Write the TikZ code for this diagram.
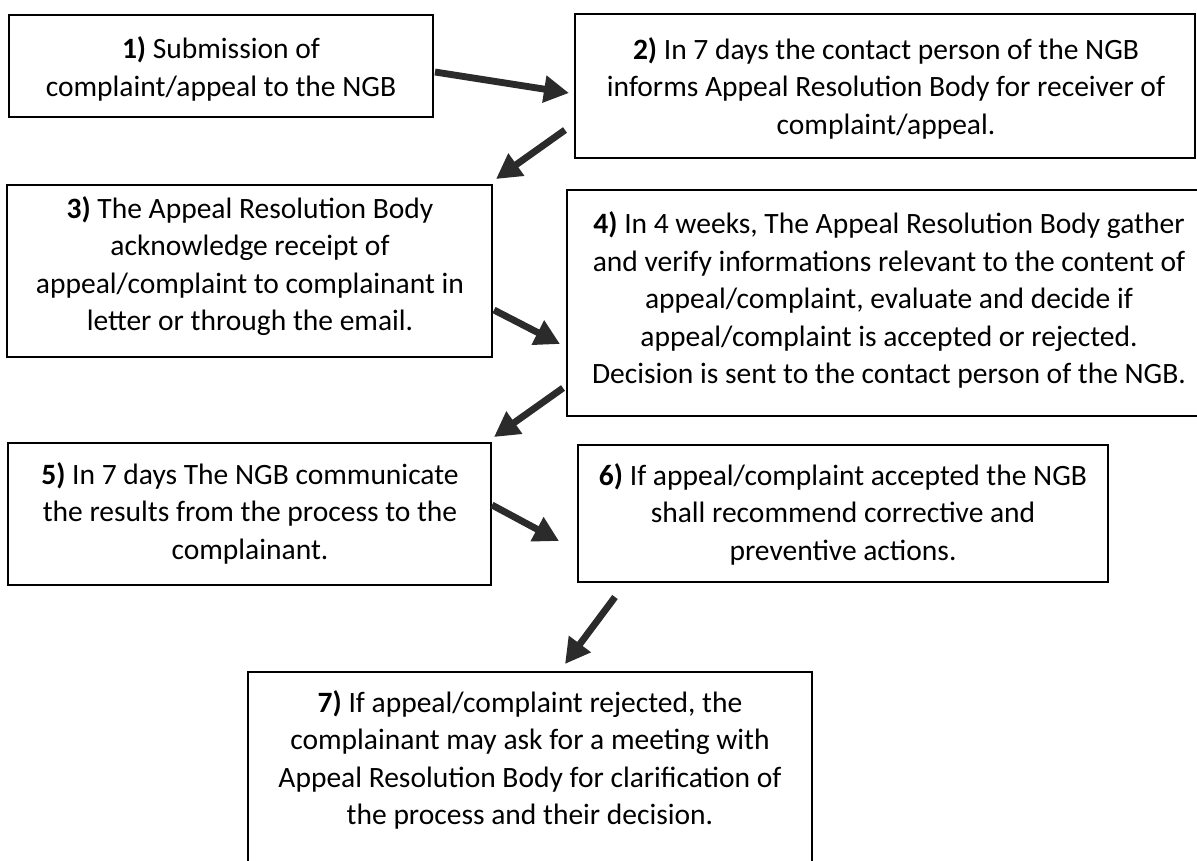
\documentclass[tikz,border=0pt]{standalone}
\usepackage{fontspec}
\setmainfont{Carlito}
\usetikzlibrary{arrows.meta}
\definecolor{arrowgray}{HTML}{2B2B2B}
\tikzset{
  px/.style={x=0.02cm,y=-0.02cm},
  boxframe/.style={draw=black,line width=1.1pt},
  boxtext/.style={align=center,inner sep=0pt,font=\fontsize{16.8}{21.3}\selectfont},
  flow/.style={draw=arrowgray,line width=3.9pt,-{Triangle[length=0.5cm,width=0.52cm]}}
}
\begin{document}
\begin{tikzpicture}[px]
\useasboundingbox (0,0) rectangle (1197,860);
% boxes
\draw[boxframe] (9,15) rectangle (433,117);
\draw[boxframe] (575,14) rectangle (1195,158);
\draw[boxframe] (7,185) rectangle (492,357);
\draw[boxframe] (1197,190) -- (567,190) -- (567,416) -- (1197,416);
\draw[boxframe] (8,443) rectangle (491,585);
\draw[boxframe] (578,445) rectangle (1108,582);
\draw[boxframe] (248,862) -- (248,672) -- (812,672) -- (812,862);
% texts
\node[boxtext] (b1) at (221,69) {\textbf{1)} Submission of\\complaint/appeal to the NGB};
\node[boxtext] (b2) at (886,88) {\textbf{2)} In 7 days the contact person of the NGB\\informs Appeal Resolution Body for receiver of\\complaint/appeal.};
\node[boxtext] (b3) at (250,266) {\textbf{3)} The Appeal Resolution Body\\acknowledge receipt of\\appeal/complaint to complainant in\\letter or through the email.};
\node[boxtext] (b4) at (889,300) {\textbf{4)} In 4 weeks, The Appeal Resolution Body gather\\and verify informations relevant to the content of\\appeal/complaint, evaluate and decide if\\appeal/complaint is accepted or rejected.\\Decision is sent to the contact person of the NGB.};
\node[boxtext] (b5) at (250,513) {\textbf{5)} In 7 days The NGB communicate\\the results from the process to the\\complainant.};
\node[boxtext] (b6) at (843,514) {\textbf{6)} If appeal/complaint accepted the NGB\\shall recommend corrective and\\preventive actions.};
\node[boxtext] (b7) at (530,760) {\textbf{7)} If appeal/complaint rejected, the\\complainant may ask for a meeting with\\Appeal Resolution Body for clarification of\\the process and their decision.};
% arrow end points
\coordinate (a1s) at (435,72);  \coordinate (a1e) at (569,93);
\coordinate (a2s) at (565,130); \coordinate (a2e) at (496,179);
\coordinate (a3s) at (494,310); \coordinate (a3e) at (560,344);
\coordinate (a4s) at (563,388); \coordinate (a4e) at (494,437);
\coordinate (a5s) at (492,505); \coordinate (a5e) at (559,541);
\coordinate (a6s) at (615,597); \coordinate (a6e) at (565,664);
\draw[flow] (a1s) -- (a1e);
\draw[flow] (a2s) -- (a2e);
\draw[flow] (a3s) -- (a3e);
\draw[flow] (a4s) -- (a4e);
\draw[flow] (a5s) -- (a5e);
\draw[flow] (a6s) -- (a6e);
\end{tikzpicture}
\end{document}
